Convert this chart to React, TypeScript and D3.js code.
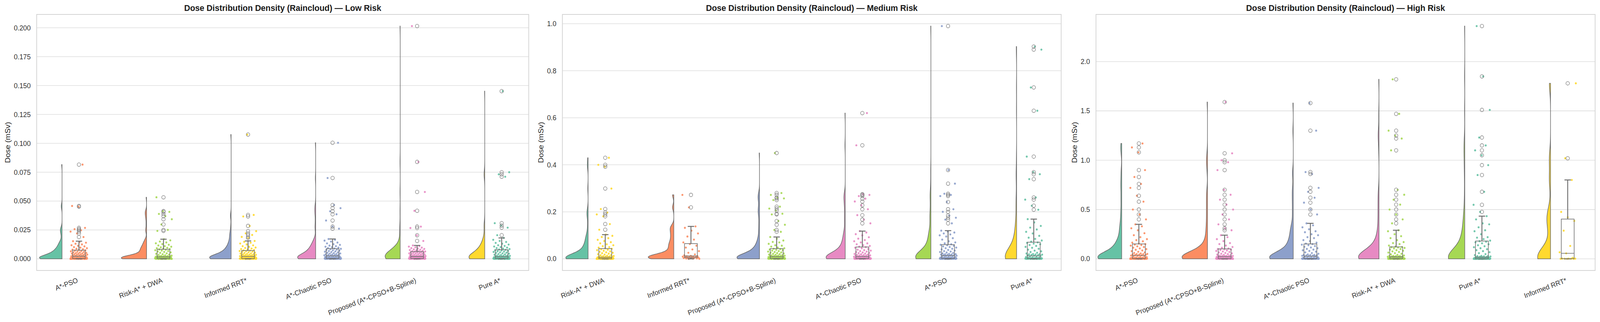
import React, { useEffect, useRef } from 'react';
import * as d3 from 'd3';

const WIDTH = 4276;
const HEIGHT = 825;

const SET2 = ['#66c2a5', '#fc8d62', '#8da0cb', '#e78ac3', '#a6d854', '#ffd92f'];

// dense row of near-zero doses seen at the bottom of every group, per risk level
const lowZero = [0, 0, 0, 0, 0.00002, 0.00004, 0.00006, 0.00008, 0.0001, 0.0001, 0.00012, 0.00014, 0.00016, 0.00018, 0.0002, 0.0002,
  0.00022, 0.00024, 0.00026, 0.00028, 0.0003, 0.0003, 0.00032, 0.00034];
const medZero = [0, 0, 0, 0, 0.0001, 0.0002, 0.0003, 0.0004, 0.0005, 0.0006, 0.0007, 0.0008, 0.0009, 0.0010, 0.0011, 0.0012,
  0.0013, 0.0014, 0.0015, 0.0016, 0.0017, 0.0018, 0.0019, 0.0020];
const highZero = [0, 0, 0, 0, 0.0002, 0.0004, 0.0006, 0.0008, 0.0010, 0.0012, 0.0014, 0.0016, 0.0018, 0.0020, 0.0022, 0.0024,
  0.0026, 0.0028, 0.0030, 0.0032, 0.0034, 0.0036, 0.0038, 0.0040];

// ---- Low risk ----
const lowMethods = ['A*-PSO', 'Risk-A* + DWA', 'Informed RRT*', 'A*-Chaotic PSO', 'Proposed (A*-CPSO+B-Spline)', 'Pure A*'];
const lowAPso = [...lowZero, 0.0000, 0.0001, 0.0001, 0.0002, 0.0002, 0.0003, 0.0003, 0.0004, 0.0004, 0.0005, 0.0005, 0.0006, 0.0007, 0.0007, 0.0008, 0.0009,
  0.0010, 0.0012, 0.0013, 0.0015, 0.0017, 0.0018, 0.0020, 0.0022, 0.0024, 0.0026, 0.0028, 0.0030, 0.0031, 0.0033, 0.0035, 0.0037,
  0.0038, 0.0040, 0.0042, 0.0044, 0.0046, 0.0048, 0.0050, 0.0052, 0.0055, 0.0057, 0.0060, 0.0062, 0.0065, 0.0068, 0.0071, 0.0074,
  0.0077, 0.0080, 0.0084, 0.0088, 0.0092, 0.0097, 0.0102, 0.0108, 0.0113, 0.0118, 0.0125, 0.0131, 0.0140, 0.0146, 0.0153,
  0.0189, 0.0220, 0.0236, 0.0248, 0.0257, 0.0268, 0.0452, 0.0458, 0.0816];
const lowRiskDwa = [...lowZero, 0.0000, 0.0001, 0.0001, 0.0002, 0.0002, 0.0003, 0.0003, 0.0004, 0.0004, 0.0005, 0.0005, 0.0006, 0.0006, 0.0007, 0.0008, 0.0009,
  0.0010, 0.0011, 0.0012, 0.0013, 0.0014, 0.0015, 0.0016, 0.0017, 0.0018, 0.0019, 0.0020, 0.0021, 0.0022, 0.0023, 0.0024, 0.0026,
  0.0028, 0.0031, 0.0034, 0.0037, 0.0040, 0.0044, 0.0048, 0.0052, 0.0056, 0.0060, 0.0064, 0.0068, 0.0072, 0.0075, 0.0079, 0.0082,
  0.0085, 0.0088, 0.0092, 0.0096, 0.0100, 0.0105, 0.0110, 0.0116, 0.0122, 0.0128, 0.0135, 0.0142, 0.0150, 0.0160, 0.0170,
  0.0242, 0.0251, 0.0298, 0.0343, 0.0370, 0.0389, 0.0407, 0.0414, 0.0533];
const lowInformed = [...lowZero, 0.0000, 0.0001, 0.0001, 0.0002, 0.0002, 0.0003, 0.0003, 0.0004, 0.0004, 0.0005, 0.0005, 0.0006, 0.0007, 0.0007, 0.0008, 0.0009,
  0.0010, 0.0011, 0.0013, 0.0014, 0.0016, 0.0017, 0.0019, 0.0020, 0.0022, 0.0023, 0.0025, 0.0026, 0.0027, 0.0028, 0.0030, 0.0031,
  0.0033, 0.0035, 0.0037, 0.0039, 0.0041, 0.0043, 0.0046, 0.0048, 0.0051, 0.0054, 0.0057, 0.0060, 0.0063, 0.0066, 0.0068, 0.0071,
  0.0074, 0.0077, 0.0081, 0.0085, 0.0089, 0.0094, 0.0098, 0.0104, 0.0110, 0.0117, 0.0125, 0.0133, 0.0140, 0.0148, 0.0155,
  0.0180, 0.0190, 0.0207, 0.0221, 0.0240, 0.0285, 0.0367, 0.0380, 0.1076];
const lowChaotic = [...lowZero, 0.0000, 0.0001, 0.0002, 0.0002, 0.0003, 0.0004, 0.0004, 0.0005, 0.0006, 0.0006, 0.0007, 0.0008, 0.0009, 0.0010, 0.0011, 0.0012,
  0.0013, 0.0015, 0.0016, 0.0018, 0.0019, 0.0021, 0.0023, 0.0025, 0.0027, 0.0029, 0.0031, 0.0033, 0.0035, 0.0037, 0.0038, 0.0040,
  0.0042, 0.0045, 0.0047, 0.0050, 0.0053, 0.0056, 0.0059, 0.0062, 0.0065, 0.0068, 0.0071, 0.0074, 0.0077, 0.0080, 0.0084, 0.0087,
  0.0090, 0.0093, 0.0097, 0.0101, 0.0105, 0.0110, 0.0115, 0.0121, 0.0127, 0.0134, 0.0141, 0.0150, 0.0158, 0.0165, 0.0172,
  0.0261, 0.0279, 0.0332, 0.0386, 0.0412, 0.0439, 0.0466, 0.0700, 0.1005];
const lowProposed = [...lowZero, 0.0000, 0.0001, 0.0002, 0.0002, 0.0003, 0.0004, 0.0004, 0.0005, 0.0006, 0.0006, 0.0007, 0.0008, 0.0009, 0.0010, 0.0011, 0.0012,
  0.0013, 0.0014, 0.0015, 0.0016, 0.0017, 0.0018, 0.0019, 0.0020, 0.0021, 0.0022, 0.0023, 0.0024, 0.0026, 0.0027, 0.0028, 0.0030,
  0.0032, 0.0034, 0.0036, 0.0038, 0.0040, 0.0042, 0.0044, 0.0046, 0.0048, 0.0050, 0.0052, 0.0054, 0.0056, 0.0058, 0.0060, 0.0062,
  0.0064, 0.0066, 0.0068, 0.0071, 0.0073, 0.0076, 0.0079, 0.0082, 0.0086, 0.0089, 0.0093, 0.0097, 0.0101, 0.0106, 0.0111, 0.0116,
  0.0155, 0.0204, 0.0267, 0.0279, 0.0416, 0.0579, 0.0839, 0.2015];
const lowPure = [...lowZero, 0.0000, 0.0001, 0.0001, 0.0002, 0.0002, 0.0003, 0.0003, 0.0004, 0.0004, 0.0005, 0.0005, 0.0006, 0.0006, 0.0007, 0.0007, 0.0008,
  0.0009, 0.0010, 0.0011, 0.0012, 0.0014, 0.0015, 0.0017, 0.0018, 0.0020, 0.0021, 0.0023, 0.0024, 0.0026, 0.0027, 0.0029, 0.0030,
  0.0033, 0.0036, 0.0039, 0.0042, 0.0045, 0.0048, 0.0051, 0.0054, 0.0057, 0.0060, 0.0063, 0.0066, 0.0069, 0.0072, 0.0075, 0.0078,
  0.0081, 0.0085, 0.0089, 0.0093, 0.0097, 0.0102, 0.0107, 0.0112, 0.0118, 0.0124, 0.0131, 0.0138, 0.0146, 0.0155, 0.0165, 0.0181,
  0.0205, 0.0270, 0.0288, 0.0309, 0.0711, 0.0732, 0.0750, 0.1452];
const lowDose = [lowAPso, lowRiskDwa, lowInformed, lowChaotic, lowProposed, lowPure];
const lowStripColor = [1, 4, 5, 2, 3, 0];
const lowTicks = [0, 0.025, 0.05, 0.075, 0.1, 0.125, 0.15, 0.175, 0.2];

// ---- Medium risk ----
const medMethods = ['Risk-A* + DWA', 'Informed RRT*', 'Proposed (A*-CPSO+B-Spline)', 'A*-Chaotic PSO', 'A*-PSO', 'Pure A*'];
const medRiskDwa = [...medZero, 0.0000, 0.0001, 0.0002, 0.0003, 0.0004, 0.0005, 0.0006, 0.0007, 0.0008, 0.0009, 0.0010, 0.0012, 0.0014, 0.0016, 0.0018, 0.0020,
  0.0024, 0.0028, 0.0033, 0.0038, 0.0044, 0.0050, 0.0056, 0.0063, 0.0070, 0.0077, 0.0085, 0.0092, 0.0100, 0.0106, 0.0113, 0.0120,
  0.0135, 0.0150, 0.0165, 0.0180, 0.0200, 0.0220, 0.0240, 0.0260, 0.0280, 0.0300, 0.0320, 0.0345, 0.0370, 0.0390, 0.0410, 0.0430,
  0.0450, 0.0480, 0.0500, 0.0540, 0.0580, 0.0620, 0.0660, 0.0710, 0.0760, 0.0810, 0.0880, 0.0930, 0.0980, 0.1030,
  0.124, 0.148, 0.181, 0.189, 0.197, 0.212, 0.299, 0.392, 0.400, 0.430];
const medInformed = [0.0000, 0.0005, 0.0010, 0.0015, 0.0020, 0.0025, 0.0032, 0.0040, 0.0048,
  0.0055, 0.0062, 0.0070, 0.0078, 0.0086, 0.0094, 0.0102, 0.0110, 0.0118,
  0.0125, 0.0150, 0.0190, 0.0260, 0.0330, 0.0400, 0.0480, 0.0560, 0.0630,
  0.0700, 0.0820, 0.0950, 0.1080, 0.1200, 0.1320, 0.1380,
  0.2190, 0.2720];
const medProposed = [...medZero, 0.0000, 0.0002, 0.0004, 0.0006, 0.0008, 0.0010, 0.0012, 0.0014, 0.0016, 0.0018, 0.0020, 0.0022, 0.0024, 0.0026, 0.0028, 0.0029, 0.0030, 0.0031,
  0.0034, 0.0040, 0.0046, 0.0052, 0.0058, 0.0064, 0.0070, 0.0077, 0.0084, 0.0091, 0.0098, 0.0105, 0.0112, 0.0119, 0.0126, 0.0133, 0.0140, 0.0148,
  0.0155, 0.0170, 0.0185, 0.0200, 0.0215, 0.0230, 0.0245, 0.0260, 0.0275, 0.0290, 0.0310, 0.0330, 0.0350, 0.0370, 0.0385, 0.0400, 0.0415, 0.0430,
  0.0450, 0.0480, 0.0520, 0.0560, 0.0580, 0.0640, 0.0700, 0.0720, 0.0780, 0.0860, 0.0930,
  0.115, 0.123, 0.145, 0.161, 0.189, 0.192, 0.206, 0.214, 0.222, 0.250, 0.257, 0.261, 0.272, 0.280, 0.450];
const medChaotic = [...medZero, 0.0000, 0.0002, 0.0004, 0.0006, 0.0008, 0.0010, 0.0012, 0.0014, 0.0016, 0.0018, 0.0020, 0.0022, 0.0024, 0.0026, 0.0027, 0.0028, 0.0029, 0.0030,
  0.0034, 0.0040, 0.0047, 0.0054, 0.0061, 0.0068, 0.0075, 0.0082, 0.0089, 0.0096, 0.0103, 0.0110, 0.0118, 0.0126, 0.0134, 0.0142, 0.0150, 0.0158,
  0.0165, 0.0180, 0.0195, 0.0210, 0.0225, 0.0240, 0.0255, 0.0270, 0.0290, 0.0310, 0.0330, 0.0350, 0.0370, 0.0390, 0.0420, 0.0450, 0.0475, 0.0500,
  0.0520, 0.0550, 0.0580, 0.0620, 0.0660, 0.0700, 0.0750, 0.0800, 0.0860, 0.0920, 0.1000, 0.1050, 0.1120, 0.1180,
  0.151, 0.167, 0.186, 0.211, 0.228, 0.244, 0.256, 0.267, 0.272, 0.275, 0.483, 0.620];
const medAPso = [...medZero, 0.0000, 0.0002, 0.0004, 0.0006, 0.0008, 0.0010, 0.0013, 0.0016, 0.0019, 0.0022, 0.0025, 0.0028, 0.0031, 0.0034, 0.0036, 0.0038, 0.0039, 0.0040,
  0.0045, 0.0055, 0.0065, 0.0075, 0.0085, 0.0095, 0.0105, 0.0115, 0.0125, 0.0135, 0.0145, 0.0155, 0.0165, 0.0175, 0.0183, 0.0190, 0.0196, 0.0200,
  0.0210, 0.0230, 0.0250, 0.0270, 0.0290, 0.0310, 0.0330, 0.0355, 0.0380, 0.0405, 0.0430, 0.0455, 0.0480, 0.0505, 0.0530, 0.0555, 0.0580, 0.0600,
  0.0620, 0.0660, 0.0700, 0.0750, 0.0820, 0.0880, 0.0950, 0.1000, 0.1040, 0.1080, 0.1120, 0.1160, 0.1200,
  0.151, 0.167, 0.175, 0.184, 0.200, 0.211, 0.242, 0.267, 0.272, 0.277, 0.320, 0.378, 0.990];
const medPure = [...medZero, 0.0000, 0.0002, 0.0004, 0.0006, 0.0008, 0.0010, 0.0012, 0.0014, 0.0016, 0.0018, 0.0020, 0.0022, 0.0024, 0.0026, 0.0028, 0.0030,
  0.0035, 0.0045, 0.0055, 0.0065, 0.0078, 0.0090, 0.0105, 0.0120, 0.0135, 0.0150, 0.0162, 0.0172, 0.0180, 0.0187, 0.0193, 0.0198,
  0.0205, 0.0230, 0.0260, 0.0290, 0.0320, 0.0350, 0.0390, 0.0430, 0.0470, 0.0510, 0.0550, 0.0590, 0.0620, 0.0650, 0.0680, 0.0700,
  0.0730, 0.0780, 0.0850, 0.0900, 0.0980, 0.1080, 0.1150, 0.1250, 0.1330, 0.1400, 0.1550, 0.1690,
  0.209, 0.226, 0.252, 0.261, 0.339, 0.360, 0.369, 0.435, 0.630, 0.729, 0.890, 0.903];
const medDose = [medRiskDwa, medInformed, medProposed, medChaotic, medAPso, medPure];
const medStripColor = [5, 1, 4, 3, 2, 0];
const medTicks = [0, 0.2, 0.4, 0.6, 0.8, 1.0];

// ---- High risk ----
const highMethods = ['A*-PSO', 'Proposed (A*-CPSO+B-Spline)', 'A*-Chaotic PSO', 'Risk-A* + DWA', 'Pure A*', 'Informed RRT*'];
const highAPso = [...highZero, 0.0000, 0.0005, 0.0010, 0.0015, 0.0020, 0.0025, 0.0030, 0.0038, 0.0045, 0.0052, 0.0060, 0.0068, 0.0076, 0.0084, 0.0092, 0.0100,
  0.012, 0.015, 0.018, 0.021, 0.024, 0.027, 0.030, 0.033, 0.036, 0.039, 0.042, 0.044, 0.046, 0.048, 0.049, 0.050,
  0.055, 0.060, 0.066, 0.072, 0.078, 0.085, 0.092, 0.099, 0.106, 0.113, 0.120, 0.127, 0.134, 0.140, 0.145, 0.150,
  0.155, 0.165, 0.178, 0.190, 0.200, 0.220, 0.240, 0.260, 0.290, 0.310, 0.330, 0.350,
  0.40, 0.45, 0.50, 0.58, 0.64, 0.72, 0.76, 0.83, 0.90, 1.08, 1.13, 1.17];
const highProposed = [...highZero, 0.0000, 0.0003, 0.0006, 0.0009, 0.0012, 0.0015, 0.0018, 0.0021, 0.0024, 0.0027, 0.0030, 0.0033, 0.0036, 0.0039, 0.0042, 0.0046, 0.0050,
  0.0060, 0.0080, 0.0100, 0.0120, 0.0140, 0.0160, 0.0180, 0.0200, 0.0215, 0.0230, 0.0245, 0.0260, 0.0270, 0.0280, 0.0290, 0.0295, 0.0300,
  0.0320, 0.0360, 0.0400, 0.0440, 0.0480, 0.0520, 0.0560, 0.0600, 0.0650, 0.0700, 0.0750, 0.0800, 0.0850, 0.0900, 0.0940, 0.0970, 0.1000,
  0.1050, 0.1120, 0.1200, 0.1350, 0.1500, 0.1600, 0.1800, 0.2000, 0.2200, 0.2400,
  0.29, 0.31, 0.35, 0.40, 0.45, 0.50, 0.55, 0.60, 0.65, 0.70, 0.90, 0.98, 1.00, 1.07, 1.59];
const highChaotic = [...highZero, 0.0000, 0.0003, 0.0006, 0.0009, 0.0012, 0.0015, 0.0018, 0.0021, 0.0024, 0.0027, 0.0030, 0.0034, 0.0038, 0.0042, 0.0046, 0.0050,
  0.0070, 0.0095, 0.0120, 0.0145, 0.0170, 0.0195, 0.0220, 0.0250, 0.0280, 0.0310, 0.0330, 0.0350, 0.0370, 0.0385, 0.0395, 0.0400,
  0.0450, 0.0520, 0.0590, 0.0660, 0.0730, 0.0800, 0.0870, 0.0940, 0.1010, 0.1080, 0.1150, 0.1220, 0.1300, 0.1380, 0.1440, 0.1500,
  0.1550, 0.1650, 0.1800, 0.1900, 0.2100, 0.2200, 0.2400, 0.2500, 0.2700, 0.2800, 0.3000, 0.3200, 0.3400, 0.3600,
  0.45, 0.50, 0.57, 0.62, 0.68, 0.72, 0.86, 0.88, 1.30, 1.58];
const highRiskDwa = [...highZero, 0.0000, 0.0003, 0.0006, 0.0009, 0.0012, 0.0015, 0.0018, 0.0021, 0.0024, 0.0027, 0.0030, 0.0033, 0.0036, 0.0039, 0.0042, 0.0046, 0.0050,
  0.0060, 0.0075, 0.0090, 0.0105, 0.0120, 0.0135, 0.0150, 0.0170, 0.0190, 0.0210, 0.0230, 0.0250, 0.0265, 0.0280, 0.0290, 0.0295, 0.0300,
  0.0340, 0.0400, 0.0460, 0.0520, 0.0580, 0.0640, 0.0700, 0.0760, 0.0820, 0.0880, 0.0940, 0.1000, 0.1060, 0.1110, 0.1150, 0.1180, 0.1200,
  0.1250, 0.1350, 0.1500, 0.1600, 0.1700, 0.1900, 0.2100, 0.2300, 0.2500, 0.2800, 0.2900,
  0.36, 0.40, 0.45, 0.50, 0.55, 0.60, 0.65, 0.70, 1.10, 1.22, 1.25, 1.30, 1.47, 1.82];
const highPure = [...highZero, 0.0000, 0.0001, 0.0002, 0.0003, 0.0004, 0.0005, 0.0006, 0.0007, 0.0008, 0.0009, 0.0010, 0.0012, 0.0014, 0.0016, 0.0018, 0.0020,
  0.0030, 0.0045, 0.0060, 0.0080, 0.0100, 0.0120, 0.0140, 0.0160, 0.0180, 0.0200, 0.0220, 0.0240, 0.0260, 0.0280, 0.0290, 0.0300,
  0.0380, 0.0480, 0.0580, 0.0680, 0.0780, 0.0880, 0.0980, 0.1080, 0.1180, 0.1280, 0.1380, 0.1480, 0.1580, 0.1680, 0.1740, 0.1790,
  0.1850, 0.2000, 0.2150, 0.2200, 0.2500, 0.2800, 0.2900, 0.3200, 0.3500, 0.3600, 0.4000, 0.4330,
  0.476, 0.548, 0.680, 0.850, 0.950, 1.050, 1.100, 1.150, 1.230, 1.510, 1.850, 2.360];
const highInformed = [0.0000, 0.0004, 0.0008, 0.0012, 0.0016, 0.0020, 0.0025, 0.0030, 0.0100, 0.0560, 0.0670, 0.1310, 0.2860, 0.3850, 0.4210, 0.4760, 0.8000, 1.0200, 1.7800];
const highDose = [highAPso, highProposed, highChaotic, highRiskDwa, highPure, highInformed];
const highStripColor = [1, 3, 2, 4, 0, 5];
const highTicks = [0, 0.5, 1.0, 1.5, 2.0];

const panels = [
  { title: 'Dose Distribution Density (Raincloud) — Low Risk', methods: lowMethods, dose: lowDose, strip: lowStripColor, ticks: lowTicks, fmt: '.3f' },
  { title: 'Dose Distribution Density (Raincloud) — Medium Risk', methods: medMethods, dose: medDose, strip: medStripColor, ticks: medTicks, fmt: '.1f' },
  { title: 'Dose Distribution Density (Raincloud) — High Risk', methods: highMethods, dose: highDose, strip: highStripColor, ticks: highTicks, fmt: '.1f' },
];

// axes frames in pixels of the 4276x825 layout
const frames = [
  { left: 98, right: 1413, ylabelX: 20 },
  { left: 1503, right: 2836, ylabelX: 1445 },
  { left: 2929, right: 4263, ylabelX: 2871 },
];
const TOP = 37;
const BOTTOM = 693;
const FONT = 'Liberation Sans, Arial, sans-serif';

// gaussian KDE, bandwidth = 0.2 * std (raincloud default), cut at data range
function kde(values: number[], grid = 100): [number, number][] {
  const n = values.length;
  const bw = 0.2 * (d3.deviation(values) || 1e-6);
  const [lo, hi] = d3.extent(values) as [number, number];
  const norm = 1 / (n * bw * Math.sqrt(2 * Math.PI));
  return d3.range(grid).map(i => {
    const y = lo + ((hi - lo) * i) / (grid - 1);
    const s = d3.sum(values, v => Math.exp(-0.5 * ((y - v) / bw) ** 2));
    return [y, s * norm] as [number, number];
  });
}

function boxStats(values: number[]) {
  const s = values.slice().sort(d3.ascending);
  const q1 = d3.quantileSorted(s, 0.25)!;
  const med = d3.quantileSorted(s, 0.5)!;
  const q3 = d3.quantileSorted(s, 0.75)!;
  const iqr = q3 - q1;
  const hiF = q3 + 1.5 * iqr;
  const loF = q1 - 1.5 * iqr;
  const inside = s.filter(v => v >= loF && v <= hiF);
  return {
    q1, med, q3,
    wLo: d3.min(inside)!, wHi: d3.max(inside)!,
    fliers: s.filter(v => v < loF || v > hiF),
  };
}

export default function App() {
  const ref = useRef<SVGSVGElement | null>(null);
  const vw = typeof window !== 'undefined' && window.innerWidth > 100 ? window.innerWidth : WIDTH;
  const vh = typeof window !== 'undefined' && window.innerHeight > 100 ? window.innerHeight : HEIGHT;

  useEffect(() => {
    document.body.style.margin = '0';
    document.body.style.overflow = 'hidden';
    if (!ref.current) return;
    const svg = d3.select(ref.current);
    svg.selectAll('*').remove();
    svg.append('rect').attr('width', WIDTH).attr('height', HEIGHT).attr('fill', '#fff');

    panels.forEach((p, pi) => {
      const f = frames[pi];
      const all = p.dose.flat();
      const lo = d3.min(all)!;
      const hi = d3.max(all)!;
      const pad = (hi - lo) * 0.05;

      const x = d3.scaleLinear().domain([-0.5, 5.32]).range([f.left, f.right]);
      const y = d3.scaleLinear().domain([lo - pad, hi + pad]).range([BOTTOM, TOP]);
      const unit = x(1) - x(0);
      const g = svg.append('g');

      // grid
      g.append('g')
        .selectAll('line')
        .data(p.ticks)
        .join('line')
        .attr('x1', f.left)
        .attr('x2', f.right)
        .attr('y1', d => y(d))
        .attr('y2', d => y(d))
        .attr('stroke', '#dedede')
        .attr('stroke-width', 1.6);

      // frame
      g.append('rect')
        .attr('x', f.left)
        .attr('y', TOP)
        .attr('width', f.right - f.left)
        .attr('height', BOTTOM - TOP)
        .attr('fill', 'none')
        .attr('stroke', '#d4d4d4')
        .attr('stroke-width', 2);

      // y ticks
      const fmt = d3.format(p.fmt);
      g.append('g')
        .selectAll('text')
        .data(p.ticks)
        .join('text')
        .attr('x', f.left - 16)
        .attr('y', d => y(d))
        .attr('dy', '0.35em')
        .attr('text-anchor', 'end')
        .attr('font-family', FONT)
        .attr('font-size', 18)
        .attr('fill', '#333')
        .text(d => fmt(d));

      // half violins, area-scaled within the panel
      const dens = p.dose.map(v => kde(v));
      const gmax = d3.max(dens.flat(), d => d[1])!;
      const halfW = 0.3 * unit;

      p.dose.forEach((vals, i) => {
        const x0 = x(i - 0.2);
        const area = d3.area<[number, number]>()
          .y(d => y(d[0]))
          .x0(x0)
          .x1(d => x0 - (halfW * d[1]) / gmax)
          .curve(d3.curveBasis);
        g.append('path')
          .attr('d', area(dens[i])!)
          .attr('fill', SET2[i])
          .attr('stroke', '#6a6a6a')
          .attr('stroke-width', 1.5);
      });

      // rain points
      p.dose.forEach((vals, i) => {
        const cx = x(i);
        g.append('g')
          .selectAll('circle')
          .data(vals)
          .join('circle')
          .attr('cx', (_, k) => cx + (((k * 0.6180339887 + i * 0.37) % 1) - 0.5) * 0.2 * unit)
          .attr('cy', d => y(d))
          .attr('r', 2.6)
          .attr('fill', SET2[p.strip[i]])
          .attr('opacity', 0.9);
      });

      // boxes
      p.dose.forEach((vals, i) => {
        const st = boxStats(vals);
        const cx = x(i);
        const bw = 0.15 * unit;
        const bg = g.append('g').attr('stroke', '#6e6e6e').attr('fill', 'none');
        bg.append('line').attr('x1', cx).attr('x2', cx).attr('y1', y(st.q3)).attr('y2', y(st.wHi)).attr('stroke-width', 2.4);
        bg.append('line').attr('x1', cx).attr('x2', cx).attr('y1', y(st.q1)).attr('y2', y(st.wLo)).attr('stroke-width', 2.4);
        bg.append('line').attr('x1', cx - bw / 4).attr('x2', cx + bw / 4).attr('y1', y(st.wHi)).attr('y2', y(st.wHi)).attr('stroke-width', 2.4);
        bg.append('line').attr('x1', cx - bw / 4).attr('x2', cx + bw / 4).attr('y1', y(st.wLo)).attr('y2', y(st.wLo)).attr('stroke-width', 2.4);
        bg.append('rect')
          .attr('x', cx - bw / 2)
          .attr('y', y(st.q3))
          .attr('width', bw)
          .attr('height', Math.max(0.5, y(st.q1) - y(st.q3)))
          .attr('stroke-width', 1.6);
        bg.append('line').attr('x1', cx - bw / 2).attr('x2', cx + bw / 2).attr('y1', y(st.med)).attr('y2', y(st.med)).attr('stroke-width', 1.6);
        bg.selectAll('circle.flier')
          .data(st.fliers)
          .join('circle')
          .attr('class', 'flier')
          .attr('cx', cx)
          .attr('cy', d => y(d))
          .attr('r', 4.6)
          .attr('stroke', '#7a7a7a')
          .attr('stroke-width', 1.3);
      });

      // x labels
      g.append('g')
        .selectAll('text')
        .data(p.methods)
        .join('text')
        .attr('transform', (_, i) => `translate(${x(i) - 1.5},${BOTTOM + 30}) rotate(-20)`)
        .attr('text-anchor', 'end')
        .attr('font-family', FONT)
        .attr('font-size', 18)
        .attr('fill', '#333')
        .text(d => d);

      // y label
      g.append('text')
        .attr('transform', `translate(${f.ylabelX},${(TOP + BOTTOM) / 2}) rotate(-90)`)
        .attr('text-anchor', 'middle')
        .attr('dy', '0.35em')
        .attr('font-family', FONT)
        .attr('font-size', 20)
        .attr('fill', '#262626')
        .text('Dose (mSv)');

      // title
      g.append('text')
        .attr('x', (f.left + f.right) / 2)
        .attr('y', 28)
        .attr('text-anchor', 'middle')
        .attr('font-family', FONT)
        .attr('font-weight', 'bold')
        .attr('font-size', 22)
        .attr('fill', '#1a1a1a')
        .text(p.title);
    });
  }, []);

  return (
    <div style={{ position: 'absolute', left: 0, top: 0, lineHeight: 0 }}>
      <svg
        ref={ref}
        width={vw}
        height={vh}
        viewBox={`0 0 ${WIDTH} ${HEIGHT}`}
        preserveAspectRatio="none"
        style={{ display: 'block' }}
      />
    </div>
  );
}
